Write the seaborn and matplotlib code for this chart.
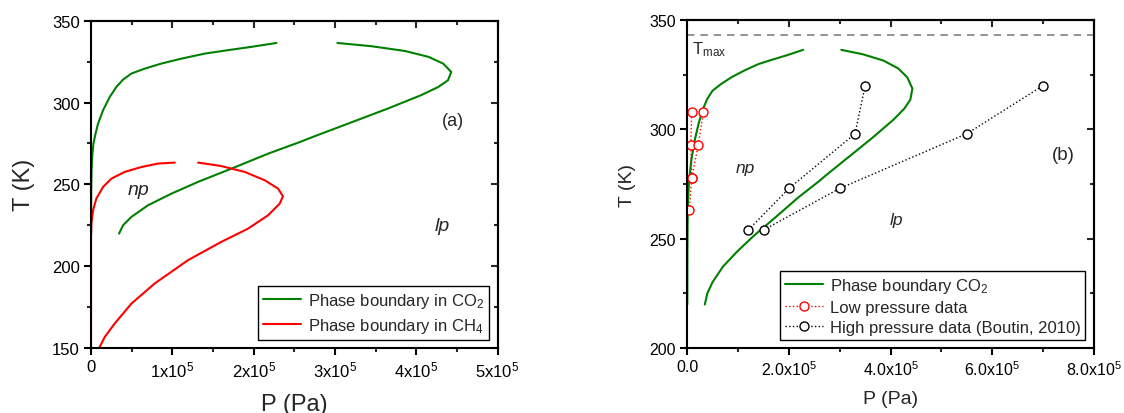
import numpy as np
import pandas as pd
import matplotlib
matplotlib.use("Agg")
import matplotlib.pyplot as plt
import seaborn as sns
from matplotlib.ticker import MultipleLocator, FuncFormatter

# ---------------- data (P in units of 1e5 Pa, T in K) ----------------
co2_np_P = [0.0, 0.002, 0.006, 0.014, 0.03, 0.053, 0.086, 0.148, 0.23, 0.311, 0.394,
            0.496, 0.66, 0.865, 1.11, 1.40, 1.685, 1.97, 2.28]
co2_np_T = [220, 245, 258, 267, 275, 280.5, 287.1, 295.3, 303.4, 309.5, 314.0,
            317.7, 320.7, 323.8, 326.8, 329.9, 332.0, 334.0, 336.4]
co2_lp_P = [3.03, 3.45, 3.86, 4.15, 4.33, 4.43, 4.39, 4.27, 4.06, 3.65, 3.24, 2.75,
            2.57, 2.18, 1.726, 1.316, 0.988, 0.70, 0.496, 0.394, 0.344]
co2_lp_T = [336.4, 334.4, 331.5, 327.9, 323.8, 318.7, 313.6, 309.5, 304.5, 296.3, 288.6, 279.4,
            275.9, 268.8, 259.6, 251.5, 244.3, 237.2, 230.1, 225.0, 219.9]

ch4_np_P = [0.0, 0.0, 0.004, 0.025, 0.065, 0.148, 0.25, 0.414, 0.62, 0.824, 1.03]
ch4_np_T = [150, 218, 226.0, 234.2, 241.3, 248.4, 253.5, 257.6, 260.6, 262.7, 263.3]
ch4_lp_P = [1.316, 1.60, 1.89, 2.136, 2.30, 2.36, 2.32, 2.177, 1.93, 1.60, 1.19, 0.78,
            0.496, 0.29, 0.168, 0.10]
ch4_lp_T = [263.3, 261.2, 257.6, 252.5, 247.4, 242.7, 238.2, 231.1, 222.9, 214.8, 203.6, 189.3,
            177.1, 164.9, 156.7, 150.0]

low_a_P = [0.04, 0.087, 0.067, 0.087]
low_a_T = [263, 278, 293, 308]
low_b_P = [0.087, 0.217, 0.315]
low_b_T = [278, 293, 308]

high_a_P = [1.2, 2.0, 3.3, 3.5]
high_a_T = [254, 273, 298, 320]
high_b_P = [1.5, 3.0, 5.5, 7.0]
high_b_T = [254, 273, 298, 320]

T_max = 343

SCALE = 1e5

def df(P, T):
    return pd.DataFrame({"P": np.asarray(P) * SCALE, "T": T})

# ---------------- style ----------------
sns.set_theme(style="ticks")
plt.rcParams["font.family"] = ["Liberation Sans", "DejaVu Sans"]
plt.rcParams["mathtext.fontset"] = "custom"
plt.rcParams["mathtext.rm"] = "Liberation Sans"
plt.rcParams["mathtext.it"] = "Liberation Sans:italic"
plt.rcParams["mathtext.bf"] = "Liberation Sans:bold"
plt.rcParams["axes.linewidth"] = 1.5

GREEN = "#008000"
RED = "#ff0000"

fig = plt.figure(figsize=(11.24, 4.14), dpi=100)
axL = fig.add_axes([0.081, 0.157, 0.3617, 0.7906])
axR = fig.add_axes([0.6115, 0.157, 0.3616, 0.792])


def style_axes(ax, xmaj, xmin, ymaj, ymin, xfmt, tick_fs):
    ax.xaxis.set_major_locator(MultipleLocator(xmaj))
    ax.xaxis.set_minor_locator(MultipleLocator(xmin))
    ax.yaxis.set_major_locator(MultipleLocator(ymaj))
    ax.yaxis.set_minor_locator(MultipleLocator(ymin))
    ax.xaxis.set_major_formatter(FuncFormatter(xfmt))
    ax.tick_params(which="major", direction="out", length=5, width=1.5,
                   labelsize=tick_fs, colors="black", pad=3)
    ax.tick_params(which="minor", direction="out", length=3, width=1.5)
    for s in ax.spines.values():
        s.set_linewidth(1.5)
        s.set_color("black")
    secx = ax.secondary_xaxis("top")
    secx.xaxis.set_major_locator(MultipleLocator(xmaj))
    secx.xaxis.set_minor_locator(MultipleLocator(xmin))
    secx.tick_params(which="major", direction="in", length=5, width=1.5, labeltop=False)
    secx.tick_params(which="minor", direction="in", length=3, width=1.5)
    secx.spines["top"].set_linewidth(1.5)
    secy = ax.secondary_yaxis("right")
    secy.yaxis.set_major_locator(MultipleLocator(ymaj))
    secy.yaxis.set_minor_locator(MultipleLocator(ymin))
    secy.tick_params(which="major", direction="in", length=5, width=1.5, labelright=False)
    secy.tick_params(which="minor", direction="in", length=3, width=1.5)
    secy.spines["right"].set_linewidth(1.5)


def fmt_left(v, pos):
    n = int(round(v / SCALE))
    return "0" if n == 0 else f"{n}x10$^{{5}}$"


def fmt_right(v, pos):
    n = v / SCALE
    return "0.0" if abs(n) < 1e-9 else f"{n:.1f}x10$^{{5}}$"

# ---------------- panel (a) ----------------
kw = dict(x="P", y="T", sort=False, estimator=None, linewidth=1.5)
sns.lineplot(data=df(co2_np_P, co2_np_T), ax=axL, color=GREEN,
             label="Phase boundary in CO$_{2}$", **kw)
sns.lineplot(data=df(co2_lp_P, co2_lp_T), ax=axL, color=GREEN, **kw)
sns.lineplot(data=df(ch4_np_P, ch4_np_T), ax=axL, color=RED,
             label="Phase boundary in CH$_{4}$", **kw)
sns.lineplot(data=df(ch4_lp_P, ch4_lp_T), ax=axL, color=RED, **kw)

axL.set_xlim(0, 5e5)
axL.set_ylim(150, 350)
style_axes(axL, 1e5, 0.5e5, 50, 25, fmt_left, 12)
axL.set_xlabel("P (Pa)", fontsize=17, labelpad=10)
axL.set_ylabel("T (K)", fontsize=17, labelpad=12)
axL.text(0.58e5, 246.6, "np", fontsize=14, style="italic", ha="center", va="center")
axL.text(4.32e5, 224.6, "lp", fontsize=14, style="italic", ha="center", va="center")
axL.text(4.45e5, 288.9, "(a)", fontsize=13, ha="center", va="center")
legL = axL.legend(loc="lower right", fontsize=12, frameon=True, fancybox=False,
                  edgecolor="black", framealpha=1, handlelength=2.3,
                  borderaxespad=0.5, labelspacing=0.35, borderpad=0.3,
                  handletextpad=0.4)
legL.get_frame().set_linewidth(1.0)

# ---------------- panel (b) ----------------
sns.lineplot(data=df(co2_np_P, co2_np_T), ax=axR, color=GREEN,
             label="Phase boundary CO$_{2}$", **kw)
sns.lineplot(data=df(co2_lp_P, co2_lp_T), ax=axR, color=GREEN, **kw)

mk = dict(x="P", y="T", sort=False, estimator=None, linewidth=1.0,
          linestyle=":", marker="o", markersize=6.5, markerfacecolor="white",
          markeredgewidth=1.0)
sns.lineplot(data=df(low_a_P, low_a_T), ax=axR, color=RED, markeredgecolor=RED,
             label="Low pressure data", **mk)
sns.lineplot(data=df(low_b_P, low_b_T), ax=axR, color=RED, markeredgecolor=RED, **mk)
sns.lineplot(data=df(high_a_P, high_a_T), ax=axR, color="black", markeredgecolor="black",
             label="High pressure data (Boutin, 2010)", **mk)
sns.lineplot(data=df(high_b_P, high_b_T), ax=axR, color="black", markeredgecolor="black", **mk)

axR.axhline(T_max, color="#808080", linestyle=(0, (4.5, 3.5)), linewidth=1.2)
axR.text(0.1e5, 335, r"T$_{\mathrm{max}}$", fontsize=12, ha="left", va="baseline")

axR.set_xlim(0, 8e5)
axR.set_ylim(200, 350)
style_axes(axR, 2e5, 1e5, 50, 25, fmt_right, 11.5)
axR.set_xlabel("P (Pa)", fontsize=14, labelpad=9)
axR.set_ylabel("T (K)", fontsize=14, labelpad=10)
axR.text(1.15e5, 282.6, "np", fontsize=12.5, style="italic", ha="center", va="center")
axR.text(4.12e5, 259, "lp", fontsize=12.5, style="italic", ha="center", va="center")
axR.text(7.4e5, 288.7, "(b)", fontsize=13.5, ha="center", va="center")
legR = axR.legend(loc="lower right", fontsize=12, frameon=True, fancybox=False,
                  edgecolor="black", framealpha=1, handlelength=2.3,
                  borderaxespad=0.5, labelspacing=0.3, borderpad=0.3,
                  handletextpad=0.4)
legR.get_frame().set_linewidth(1.0)

fig.savefig("out.png", dpi=100)
